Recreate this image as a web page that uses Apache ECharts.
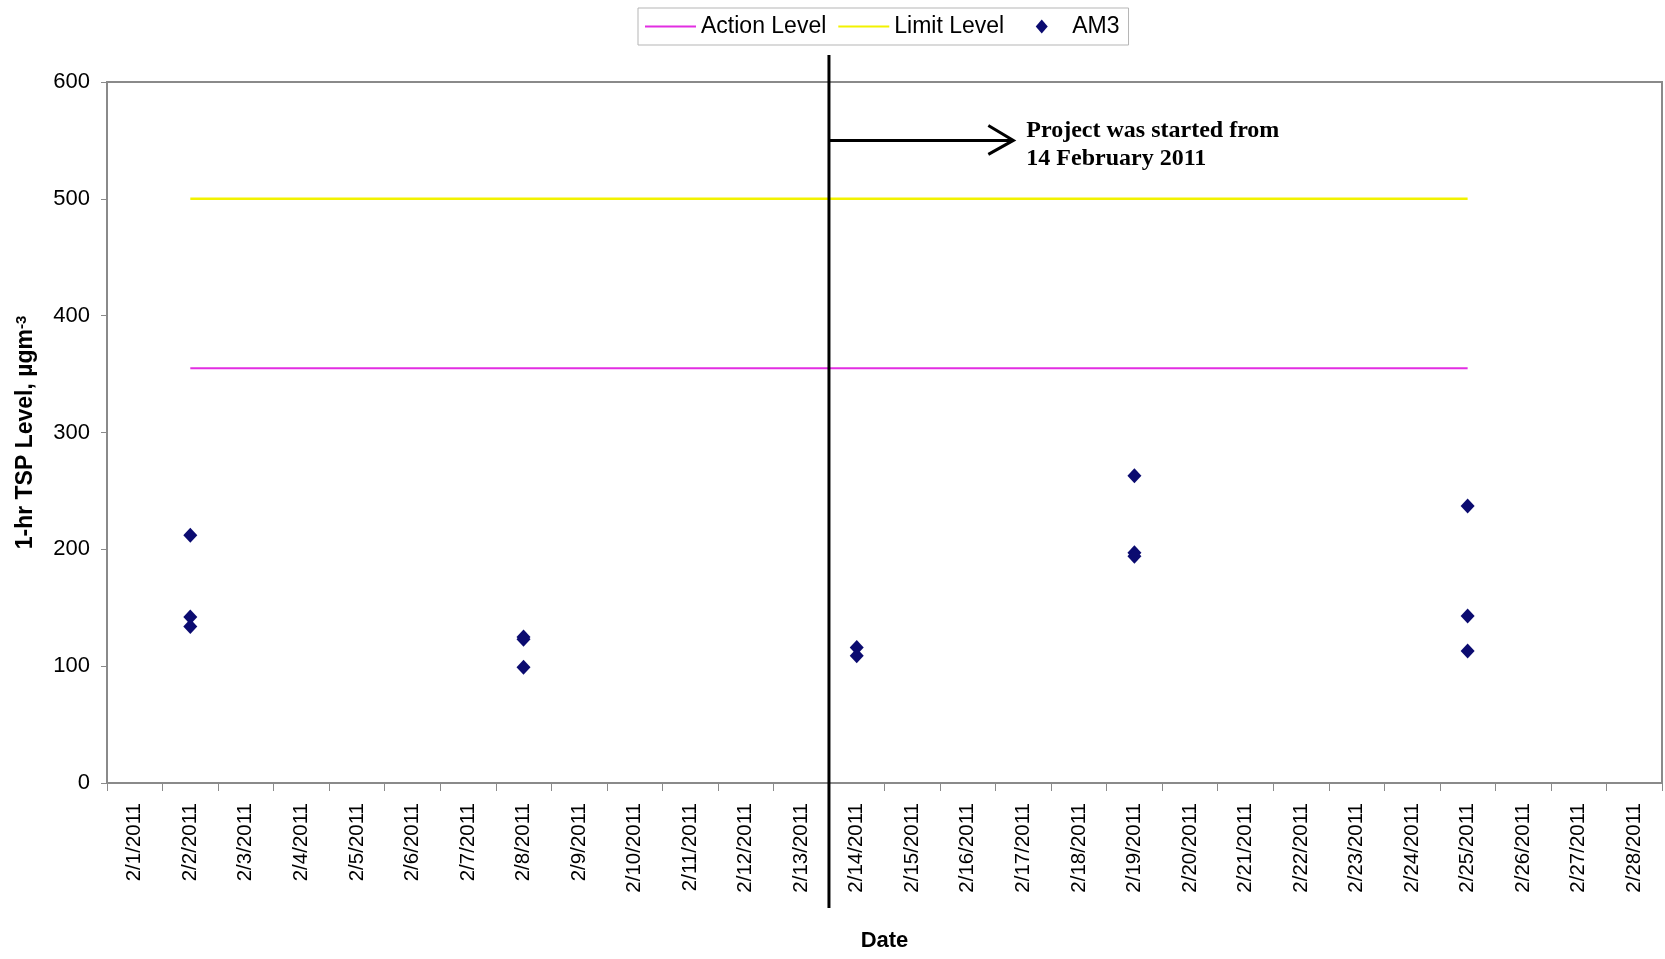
<!DOCTYPE html>
<html>
<head>
<meta charset="utf-8">
<script src="https://cdn.jsdelivr.net/npm/echarts@6/dist/echarts.min.js"></script>
<style>
  html, body { margin: 0; padding: 0; background: #ffffff; }
  #chart { width: 1665px; height: 959px; }
</style>
</head>
<body>
<div id="chart"></div>
<script>
// Category axis: one slot per day of February 2011
const dates = [
  '2/1/2011', '2/2/2011', '2/3/2011', '2/4/2011', '2/5/2011', '2/6/2011', '2/7/2011',
  '2/8/2011', '2/9/2011', '2/10/2011', '2/11/2011', '2/12/2011', '2/13/2011', '2/14/2011',
  '2/15/2011', '2/16/2011', '2/17/2011', '2/18/2011', '2/19/2011', '2/20/2011', '2/21/2011',
  '2/22/2011', '2/23/2011', '2/24/2011', '2/25/2011', '2/26/2011', '2/27/2011', '2/28/2011'
];

// Threshold levels (µg/m³), drawn across the monitoring period
const levelDates = ['2/2/2011', '2/25/2011'];
const actionLevel = [355, 355];
const limitLevel = [500, 500];

// AM3 1-hr TSP measurements
const am3Dates = [
  '2/2/2011', '2/2/2011', '2/2/2011',
  '2/8/2011', '2/8/2011', '2/8/2011',
  '2/14/2011', '2/14/2011',
  '2/19/2011', '2/19/2011', '2/19/2011',
  '2/25/2011', '2/25/2011', '2/25/2011'
];
const am3Values = [212, 142, 134, 125, 123, 99, 116, 109, 263, 197, 194, 237, 143, 113];

// Y axis range
const yMin = 0, yMax = 600, yStep = 100;

// Project start marker
const lastDayBefore = '2/13/2011';
const projectStartDay = '2/14/2011';
const noteLines = ['Project was started from', '14 February 2011'];
const arrowLevel = 550;

const chart = echarts.init(document.getElementById('chart'), null, { renderer: 'canvas' });

const axisGray = '#8a8a8a';
const actionColor = '#e22ee2';
const limitColor = '#f2f200';
const am3Color = '#0b0b70';

// Legend glyphs: a thin bar for the level lines, a small centred diamond for AM3
// (the zero-length end segments keep the diamond's box as wide as the line glyphs)
const lineGlyph = 'path://M0,0L51,0L51,2.2L0,2.2Z';
const diamondGlyph = 'path://M0,7L0,7M51,7L51,7M25.5,0L31.5,7L25.5,14L19.5,7Z';

chart.setOption({
  backgroundColor: '#ffffff',
  animation: false,
  legend: {
    left: 638,
    top: 8,
    padding: [7, 9, 7, 7],
    itemGap: 12,
    itemWidth: 51,
    itemHeight: 14,
    symbolKeepAspect: true,
    borderColor: '#b5b5b5',
    borderWidth: 1,
    textStyle: { fontFamily: 'Liberation Sans', fontSize: 23, color: '#000000' },
    data: [
      { name: 'Action Level', icon: lineGlyph },
      { name: 'Limit Level', icon: lineGlyph },
      { name: 'AM3', icon: diamondGlyph }
    ]
  },
  grid: {
    left: 107, right: 3, top: 82, bottom: 176,
    show: true,
    borderColor: axisGray,
    borderWidth: 2,
    backgroundColor: '#ffffff'
  },
  xAxis: {
    type: 'category',
    data: dates,
    boundaryGap: true,
    name: 'Date',
    nameLocation: 'middle',
    nameGap: 147,
    nameTextStyle: { fontFamily: 'Liberation Sans', fontWeight: 'bold', fontSize: 22, color: '#000000' },
    axisLine: { lineStyle: { color: axisGray, width: 2 } },
    axisTick: { show: true, length: 8, lineStyle: { color: axisGray, width: 1 } },
    axisLabel: {
      rotate: 90,
      interval: 0,
      margin: 20,
      fontFamily: 'Liberation Sans',
      fontSize: 20.5,
      color: '#000000'
    },
    splitLine: { show: false }
  },
  yAxis: {
    type: 'value',
    min: yMin, max: yMax, interval: yStep,
    name: '{t|1-hr TSP Level, µgm}{s|-3}',
    nameLocation: 'middle',
    nameRotate: 90,
    nameGap: 70,
    nameTextStyle: {
      rich: {
        t: { fontFamily: 'Liberation Sans', fontWeight: 'bold', fontSize: 23, color: '#000000' },
        s: { fontFamily: 'Liberation Sans', fontWeight: 'bold', fontSize: 15, color: '#000000', verticalAlign: 'top' }
      }
    },
    axisLine: { show: true, lineStyle: { color: axisGray, width: 2 } },
    axisTick: { show: true, length: 6, lineStyle: { color: axisGray, width: 1 } },
    axisLabel: { margin: 17, fontFamily: 'Liberation Sans', fontSize: 22, color: '#000000' },
    splitLine: { show: false }
  },
  series: [
    {
      name: 'Action Level',
      type: 'line',
      symbol: 'none',
      lineStyle: { color: actionColor, width: 2 },
      itemStyle: { color: actionColor },
      data: levelDates.map((d, i) => [d, actionLevel[i]])
    },
    {
      name: 'Limit Level',
      type: 'line',
      symbol: 'none',
      lineStyle: { color: limitColor, width: 2.5 },
      itemStyle: { color: limitColor },
      data: levelDates.map((d, i) => [d, limitLevel[i]])
    },
    {
      name: 'AM3',
      type: 'scatter',
      symbol: 'diamond',
      symbolSize: [14, 15],
      itemStyle: { color: am3Color, opacity: 1 },
      z: 5,
      data: am3Dates.map((d, i) => [d, am3Values[i]])
    }
  ]
});

// Project start marker: vertical rule on the day boundary, arrow and note
function drawMarker() {
  const xBefore = chart.convertToPixel({ xAxisIndex: 0 }, lastDayBefore);
  const xStart = chart.convertToPixel({ xAxisIndex: 0 }, projectStartDay);
  const band = xStart - xBefore;
  const xRule = (xBefore + xStart) / 2;
  const yTop = chart.convertToPixel({ yAxisIndex: 0 }, yMax);
  const yBottom = chart.convertToPixel({ yAxisIndex: 0 }, yMin);
  const yArrow = chart.convertToPixel({ yAxisIndex: 0 }, arrowLevel);
  const xTip = xRule + band * 3.32;
  const xText = xTip + 13;

  chart.setOption({
    graphic: [
      {
        type: 'line', z: 20,
        shape: { x1: xRule, y1: yTop - 27, x2: xRule, y2: yBottom + 125 },
        style: { stroke: '#000000', lineWidth: 3 }
      },
      {
        type: 'line', z: 20,
        shape: { x1: xRule, y1: yArrow, x2: xTip, y2: yArrow },
        style: { stroke: '#000000', lineWidth: 3 }
      },
      {
        type: 'polyline', z: 20,
        shape: { points: [[xTip - 25, yArrow - 15], [xTip, yArrow], [xTip - 25, yArrow + 14]] },
        style: { stroke: '#000000', lineWidth: 3, fill: null }
      },
      {
        type: 'text', z: 20,
        x: xText, y: yArrow + 4,
        style: {
          text: noteLines.join('\n'),
          fontFamily: 'Liberation Serif',
          fontWeight: 'bold',
          fontSize: 24,
          lineHeight: 28,
          fill: '#000000',
          align: 'left',
          verticalAlign: 'middle'
        }
      }
    ]
  });
}
drawMarker();
</script>
</body>
</html>
